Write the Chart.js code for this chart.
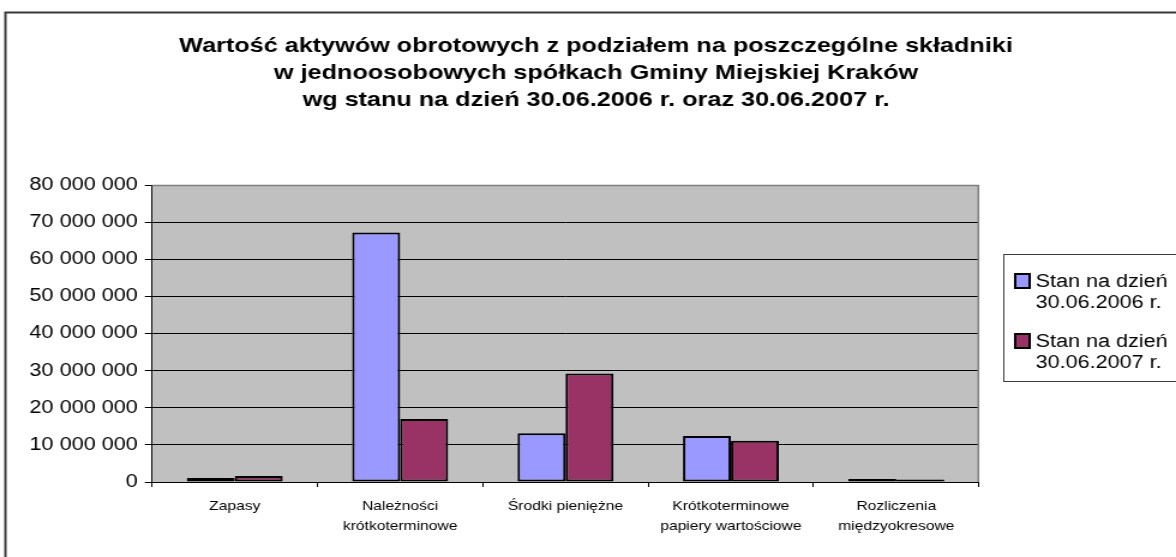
<!DOCTYPE html>
<html>
<head>
<meta charset="utf-8">
<script src="https://cdn.jsdelivr.net/npm/chart.js@4"></script>
<style>
  body { margin: 0; background: #fff; overflow: hidden; }
  #wrap { width: 980px; height: 557px; transform: scaleX(1.2); transform-origin: 0 0; }
</style>
</head>
<body>
<div id="wrap"><canvas id="chart" width="980" height="557"></canvas></div>
<script>
// chart data
const categories = [
    'Zapasy',
    ['Należności', 'krótkoterminowe'],
    'Środki pieniężne',
    ['Krótkoterminowe', 'papiery wartościowe'],
    ['Rozliczenia', 'międzyokresowe']
];
const stan2006 = [1100000, 67200000, 13100000, 12400000, 800000];
const stan2007 = [1600000, 17000000, 29200000, 11100000, 700000];
const seriesNames = [['Stan na dzień', '30.06.2006 r.'], ['Stan na dzień', '30.06.2007 r.']];
const seriesColors = ['#9999FF', '#993366'];
const titleLines = [
    'Wartość aktywów obrotowych z podziałem na poszczególne składniki',
    'w jednoosobowych spółkach Gminy Miejskiej Kraków',
    'wg stanu na dzień 30.06.2006 r. oraz 30.06.2007 r.'
];

const FONT = "'Liberation Sans', Arial, sans-serif";

function formatNumber(v) {
    return String(v).replace(/\B(?=(\d{3})+(?!\d))/g, ' ');
}

// background, frame, title and the boxed legend
const decorations = {
    id: 'decorations',
    beforeDraw(chart) {
        const ctx = chart.ctx;
        const a = chart.chartArea;
        ctx.save();
        ctx.fillStyle = '#fff';
        ctx.fillRect(0, 0, chart.width, chart.height);
        ctx.strokeStyle = '#3a3a3a';
        ctx.lineWidth = 2;
        ctx.beginPath();
        ctx.moveTo(4.5, chart.height + 2);
        ctx.lineTo(4.5, 12.5);
        ctx.lineTo(chart.width + 2, 12.5);
        ctx.stroke();
        ctx.fillStyle = '#C0C0C0';
        ctx.fillRect(a.left, a.top, a.right - a.left, a.bottom - a.top);
        ctx.restore();
    },
    afterDraw(chart) {
        const ctx = chart.ctx;
        const a = chart.chartArea;
        ctx.save();
        // gray frame on top / right of the plot
        ctx.strokeStyle = '#808080';
        ctx.lineWidth = 1.5;
        ctx.beginPath();
        ctx.moveTo(a.left, a.top + 0.5);
        ctx.lineTo(a.right - 0.5, a.top + 0.5);
        ctx.lineTo(a.right - 0.5, a.bottom);
        ctx.stroke();

        // title
        ctx.fillStyle = '#000';
        ctx.textAlign = 'center';
        ctx.textBaseline = 'alphabetic';
        ctx.font = 'bold 21px ' + FONT;
        titleLines.forEach((line, i) => {
            ctx.fillText(line, 496.7, 52 + i * 27);
        });

        // legend
        ctx.strokeStyle = '#3a3a3a';
        ctx.lineWidth = 1;
        ctx.strokeRect(836.5, 254.5, 160, 127);
        ctx.font = '18px ' + FONT;
        ctx.textAlign = 'left';
        seriesNames.forEach((lines, i) => {
            const y = 281 + i * 60;
            ctx.fillStyle = seriesColors[i];
            ctx.fillRect(846, y - 7, 12, 14);
            ctx.strokeStyle = '#000';
            ctx.lineWidth = 2;
            ctx.strokeRect(846, y - 7, 12, 14);
            ctx.fillStyle = '#000';
            ctx.textBaseline = 'middle';
            lines.forEach((t, j) => ctx.fillText(t, 863, y + 1 + j * 21));
        });
        ctx.restore();
    }
};

const chart = new Chart(document.getElementById('chart'), {
    type: 'bar',
    data: {
        labels: categories,
        datasets: [
            {
                label: seriesNames[0].join(' '),
                data: stan2006,
                backgroundColor: seriesColors[0],
                borderColor: '#000',
                borderWidth: 2,
                borderSkipped: false
            },
            {
                label: seriesNames[1].join(' '),
                data: stan2007,
                backgroundColor: seriesColors[1],
                borderColor: '#000',
                borderWidth: 2,
                borderSkipped: false
            }
        ]
    },
    options: {
        responsive: false,
        animation: false,
        devicePixelRatio: 1,
        categoryPercentage: 0.58,
        barPercentage: 1,
        layout: {
            padding: { top: 185, right: 164.2, bottom: 0, left: 0 }
        },
        scales: {
            x: {
                grid: {
                    offset: true,
                    drawOnChartArea: false,
                    tickLength: 5,
                    color: '#000'
                },
                border: { color: '#000', width: 1 },
                ticks: {
                    color: '#000',
                    padding: 9,
                    maxRotation: 0,
                    autoSkip: false,
                    font: { family: FONT, size: 13, lineHeight: 1.55 }
                },
                afterFit(scale) { scale.height = 75; }
            },
            y: {
                min: 0,
                max: 80000000,
                ticks: {
                    stepSize: 10000000,
                    color: '#000',
                    padding: 6,
                    font: { family: FONT, size: 18 },
                    callback: (v) => formatNumber(v)
                },
                grid: {
                    color: (c) => (c.tick && c.tick.value === 80000000 ? '#808080' : '#000'),
                    tickColor: '#000',
                    tickLength: 6,
                    lineWidth: 1
                },
                border: { color: '#000', width: 1 },
                afterFit(scale) { scale.width = 126.7; }
            }
        },
        plugins: {
            legend: { display: false },
            title: { display: false },
            tooltip: { enabled: false }
        }
    },
    plugins: [decorations]
});
</script>
</body>
</html>
